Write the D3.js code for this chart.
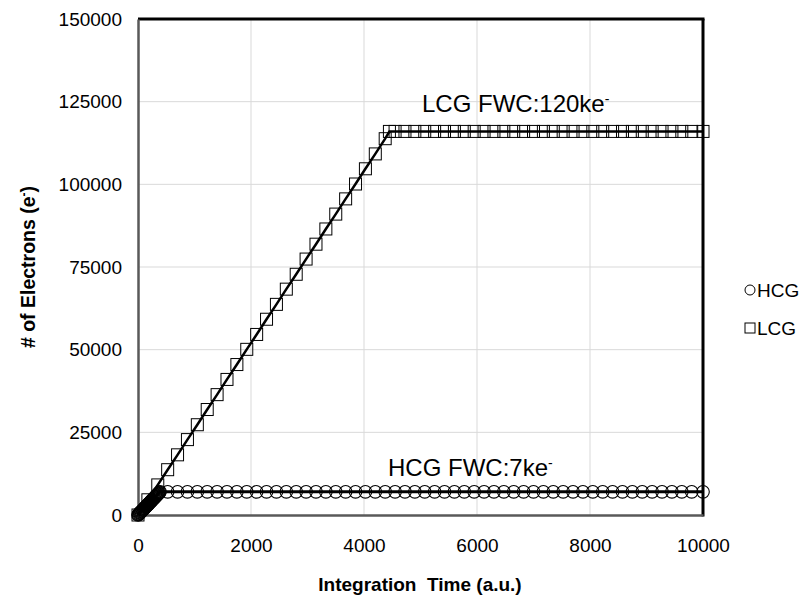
<!DOCTYPE html>
<html>
<head>
<meta charset="utf-8">
<script src="https://cdn.jsdelivr.net/npm/d3@7"></script>
<style>
  body { margin: 0; background: #fff; }
  text { font-family: "Liberation Sans", Arial, sans-serif; fill: #000; }
</style>
</head>
<body>
<svg id="chart" width="799" height="598"></svg>
<script>
const hcgTime = [0, 10, 20, 30, 40, 50, 60, 70, 80, 90, 100, 110, 120, 130, 140, 150, 160, 170, 180, 190,
    200, 210, 220, 230, 240, 250, 260, 270, 280, 290, 300, 310, 320, 330, 340, 350, 360, 370, 380, 390,
    525, 700, 875, 1050, 1225, 1400, 1575, 1750, 1925, 2100, 2275, 2450, 2625, 2800, 2975,
    3150, 3325, 3500, 3675, 3850, 4025, 4200, 4375, 4550, 4725, 4900, 5075, 5250, 5425, 5600, 5775,
    5950, 6125, 6300, 6475, 6650, 6825, 7000, 7175, 7350, 7525, 7700, 7875, 8050, 8225, 8400, 8575,
    8750, 8925, 9100, 9275, 9450, 9625, 9800, 10000];
const hcgElectrons = [0, 180, 360, 540, 720, 900, 1080, 1260, 1440, 1620, 1800, 1980, 2160, 2340, 2520, 2700,
    2880, 3060, 3240, 3420, 3600, 3780, 3960, 4140, 4320, 4500, 4680, 4860, 5040, 5220, 5400, 5580,
    5760, 5940, 6120, 6300, 6480, 6660, 6840, 7000,
    7000, 7000, 7000, 7000, 7000, 7000, 7000, 7000, 7000, 7000, 7000, 7000, 7000, 7000, 7000,
    7000, 7000, 7000, 7000, 7000, 7000, 7000, 7000, 7000, 7000, 7000, 7000, 7000, 7000, 7000, 7000,
    7000, 7000, 7000, 7000, 7000, 7000, 7000, 7000, 7000, 7000, 7000, 7000, 7000, 7000, 7000, 7000,
    7000, 7000, 7000, 7000, 7000, 7000, 7000, 7000];

const lcgTime = [0, 175, 350, 525, 700, 875, 1050, 1225, 1400, 1575, 1750, 1925, 2100, 2275, 2450, 2625,
    2800, 2975, 3150, 3325, 3500, 3675, 3850, 4025, 4200, 4375, 4450, 4550, 4725, 4900, 5075, 5250,
    5425, 5600, 5775, 5950, 6125, 6300, 6475, 6650, 6825, 7000, 7175, 7350, 7525, 7700, 7875, 8050,
    8225, 8400, 8575, 8750, 8925, 9100, 9275, 9450, 9625, 9800, 10000];
const lcgElectrons = [0, 4600, 9100, 13700, 18200, 22800, 27300, 31900, 36400, 41000, 45500, 50100, 54600, 59200,
    63700, 68300, 72800, 77400, 81900, 86500, 91000, 95600, 100100, 104700, 109200, 113800, 116000,
    116000, 116000, 116000, 116000, 116000, 116000, 116000, 116000, 116000, 116000, 116000, 116000,
    116000, 116000, 116000, 116000, 116000, 116000, 116000, 116000, 116000, 116000, 116000, 116000,
    116000, 116000, 116000, 116000, 116000, 116000, 116000, 116000];

const xTicks = [0, 2000, 4000, 6000, 8000, 10000];
const yTicks = [0, 25000, 50000, 75000, 100000, 125000, 150000];

const svg = d3.select('#chart');
const plotLeft = 138, plotRight = 703, plotTop = 19, plotBottom = 515;

const x = d3.scaleLinear().domain([0, 10000]).range([plotLeft, plotRight]);
const y = d3.scaleLinear().domain([0, 150000]).range([plotBottom, plotTop]);

// grid
svg.append('g').selectAll('line')
    .data(xTicks.slice(1, -1))
    .join('line')
    .attr('x1', d => x(d)).attr('x2', d => x(d))
    .attr('y1', plotTop).attr('y2', plotBottom)
    .attr('stroke', '#d9d9d9').attr('stroke-width', 1);
svg.append('g').selectAll('line')
    .data(yTicks.slice(1, -1))
    .join('line')
    .attr('x1', plotLeft).attr('x2', plotRight)
    .attr('y1', d => y(d)).attr('y2', d => y(d))
    .attr('stroke', '#d9d9d9').attr('stroke-width', 1);

// frame: top/right black, left/bottom grey axes
svg.append('line').attr('x1', plotLeft).attr('x2', plotRight + 1.5).attr('y1', plotTop).attr('y2', plotTop)
    .attr('stroke', '#000').attr('stroke-width', 3);
svg.append('line').attr('x1', plotRight).attr('x2', plotRight).attr('y1', plotTop).attr('y2', plotBottom + 1.5)
    .attr('stroke', '#000').attr('stroke-width', 3);

const xAxis = svg.append('g').attr('transform', `translate(0,${plotBottom})`)
    .call(d3.axisBottom(x).tickValues(xTicks).tickSize(0).tickPadding(24).tickFormat(d3.format('d')));
const yAxis = svg.append('g').attr('transform', `translate(${plotLeft},0)`)
    .call(d3.axisLeft(y).tickValues(yTicks).tickSize(0).tickPadding(16).tickFormat(d3.format('d')));
[xAxis, yAxis].forEach(a => {
    a.select('.domain').attr('stroke', '#595959').attr('stroke-width', 2.5);
    a.selectAll('text').style('font-size', '19px').style('font-family', '"Liberation Sans", Arial, sans-serif');
});

// lines
const line = d3.line().x(d => x(d[0])).y(d => y(d[1]));
const hcgPts = hcgTime.map((t, i) => [t, hcgElectrons[i]]);
const lcgPts = lcgTime.map((t, i) => [t, lcgElectrons[i]]);

svg.append('path').datum(lcgPts).attr('d', line)
    .attr('fill', 'none').attr('stroke', '#000').attr('stroke-width', 2.5);
svg.append('path').datum(hcgPts).attr('d', line)
    .attr('fill', 'none').attr('stroke', '#000').attr('stroke-width', 3);

// markers
svg.append('g').selectAll('rect')
    .data(lcgPts)
    .join('rect')
    .attr('x', d => x(d[0]) - 6).attr('y', d => y(d[1]) - 6)
    .attr('width', 12).attr('height', 12)
    .attr('fill', 'none').attr('stroke', '#000').attr('stroke-width', 1);
svg.append('g').selectAll('circle')
    .data(hcgPts)
    .join('circle')
    .attr('cx', d => x(d[0])).attr('cy', d => y(d[1]))
    .attr('r', 6.3)
    .attr('fill', 'none').attr('stroke', '#000').attr('stroke-width', 1.1);

// annotations
const lcgNote = svg.append('text').attr('x', 422).attr('y', 112).style('font-size', '24px');
lcgNote.append('tspan').text('LCG FWC:120ke');
lcgNote.append('tspan').attr('baseline-shift', 'super').style('font-size', '14px').text('-');

const hcgNote = svg.append('text').attr('x', 388).attr('y', 476).style('font-size', '24px');
hcgNote.append('tspan').text('HCG FWC:7ke');
hcgNote.append('tspan').attr('baseline-shift', 'super').style('font-size', '14px').text('-');

// axis titles
const yTitle = svg.append('text')
    .attr('transform', `translate(35,${(plotTop + plotBottom) / 2}) rotate(-90)`)
    .attr('text-anchor', 'middle')
    .style('font-size', '19.5px').style('font-weight', 'bold');
yTitle.append('tspan').text('# of Electrons (e');
yTitle.append('tspan').attr('baseline-shift', 'super').style('font-size', '12px').text('-');
yTitle.append('tspan').text(')');

svg.append('text')
    .attr('x', 420).attr('y', 591)
    .attr('text-anchor', 'middle')
    .style('font-size', '19px').style('font-weight', 'bold')
    .style('white-space', 'pre')
    .text('Integration  Time (a.u.)');

// legend
const legend = svg.append('g').attr('transform', 'translate(744,0)');
legend.append('circle').attr('cx', 6).attr('cy', 290).attr('r', 5)
    .attr('fill', 'none').attr('stroke', '#000').attr('stroke-width', 1);
legend.append('text').attr('x', 13).attr('y', 297).style('font-size', '19px').text('HCG');
legend.append('rect').attr('x', 1).attr('y', 323).attr('width', 10).attr('height', 10)
    .attr('fill', 'none').attr('stroke', '#000').attr('stroke-width', 1);
legend.append('text').attr('x', 13).attr('y', 335).style('font-size', '19px').text('LCG');
</script>
</body>
</html>
